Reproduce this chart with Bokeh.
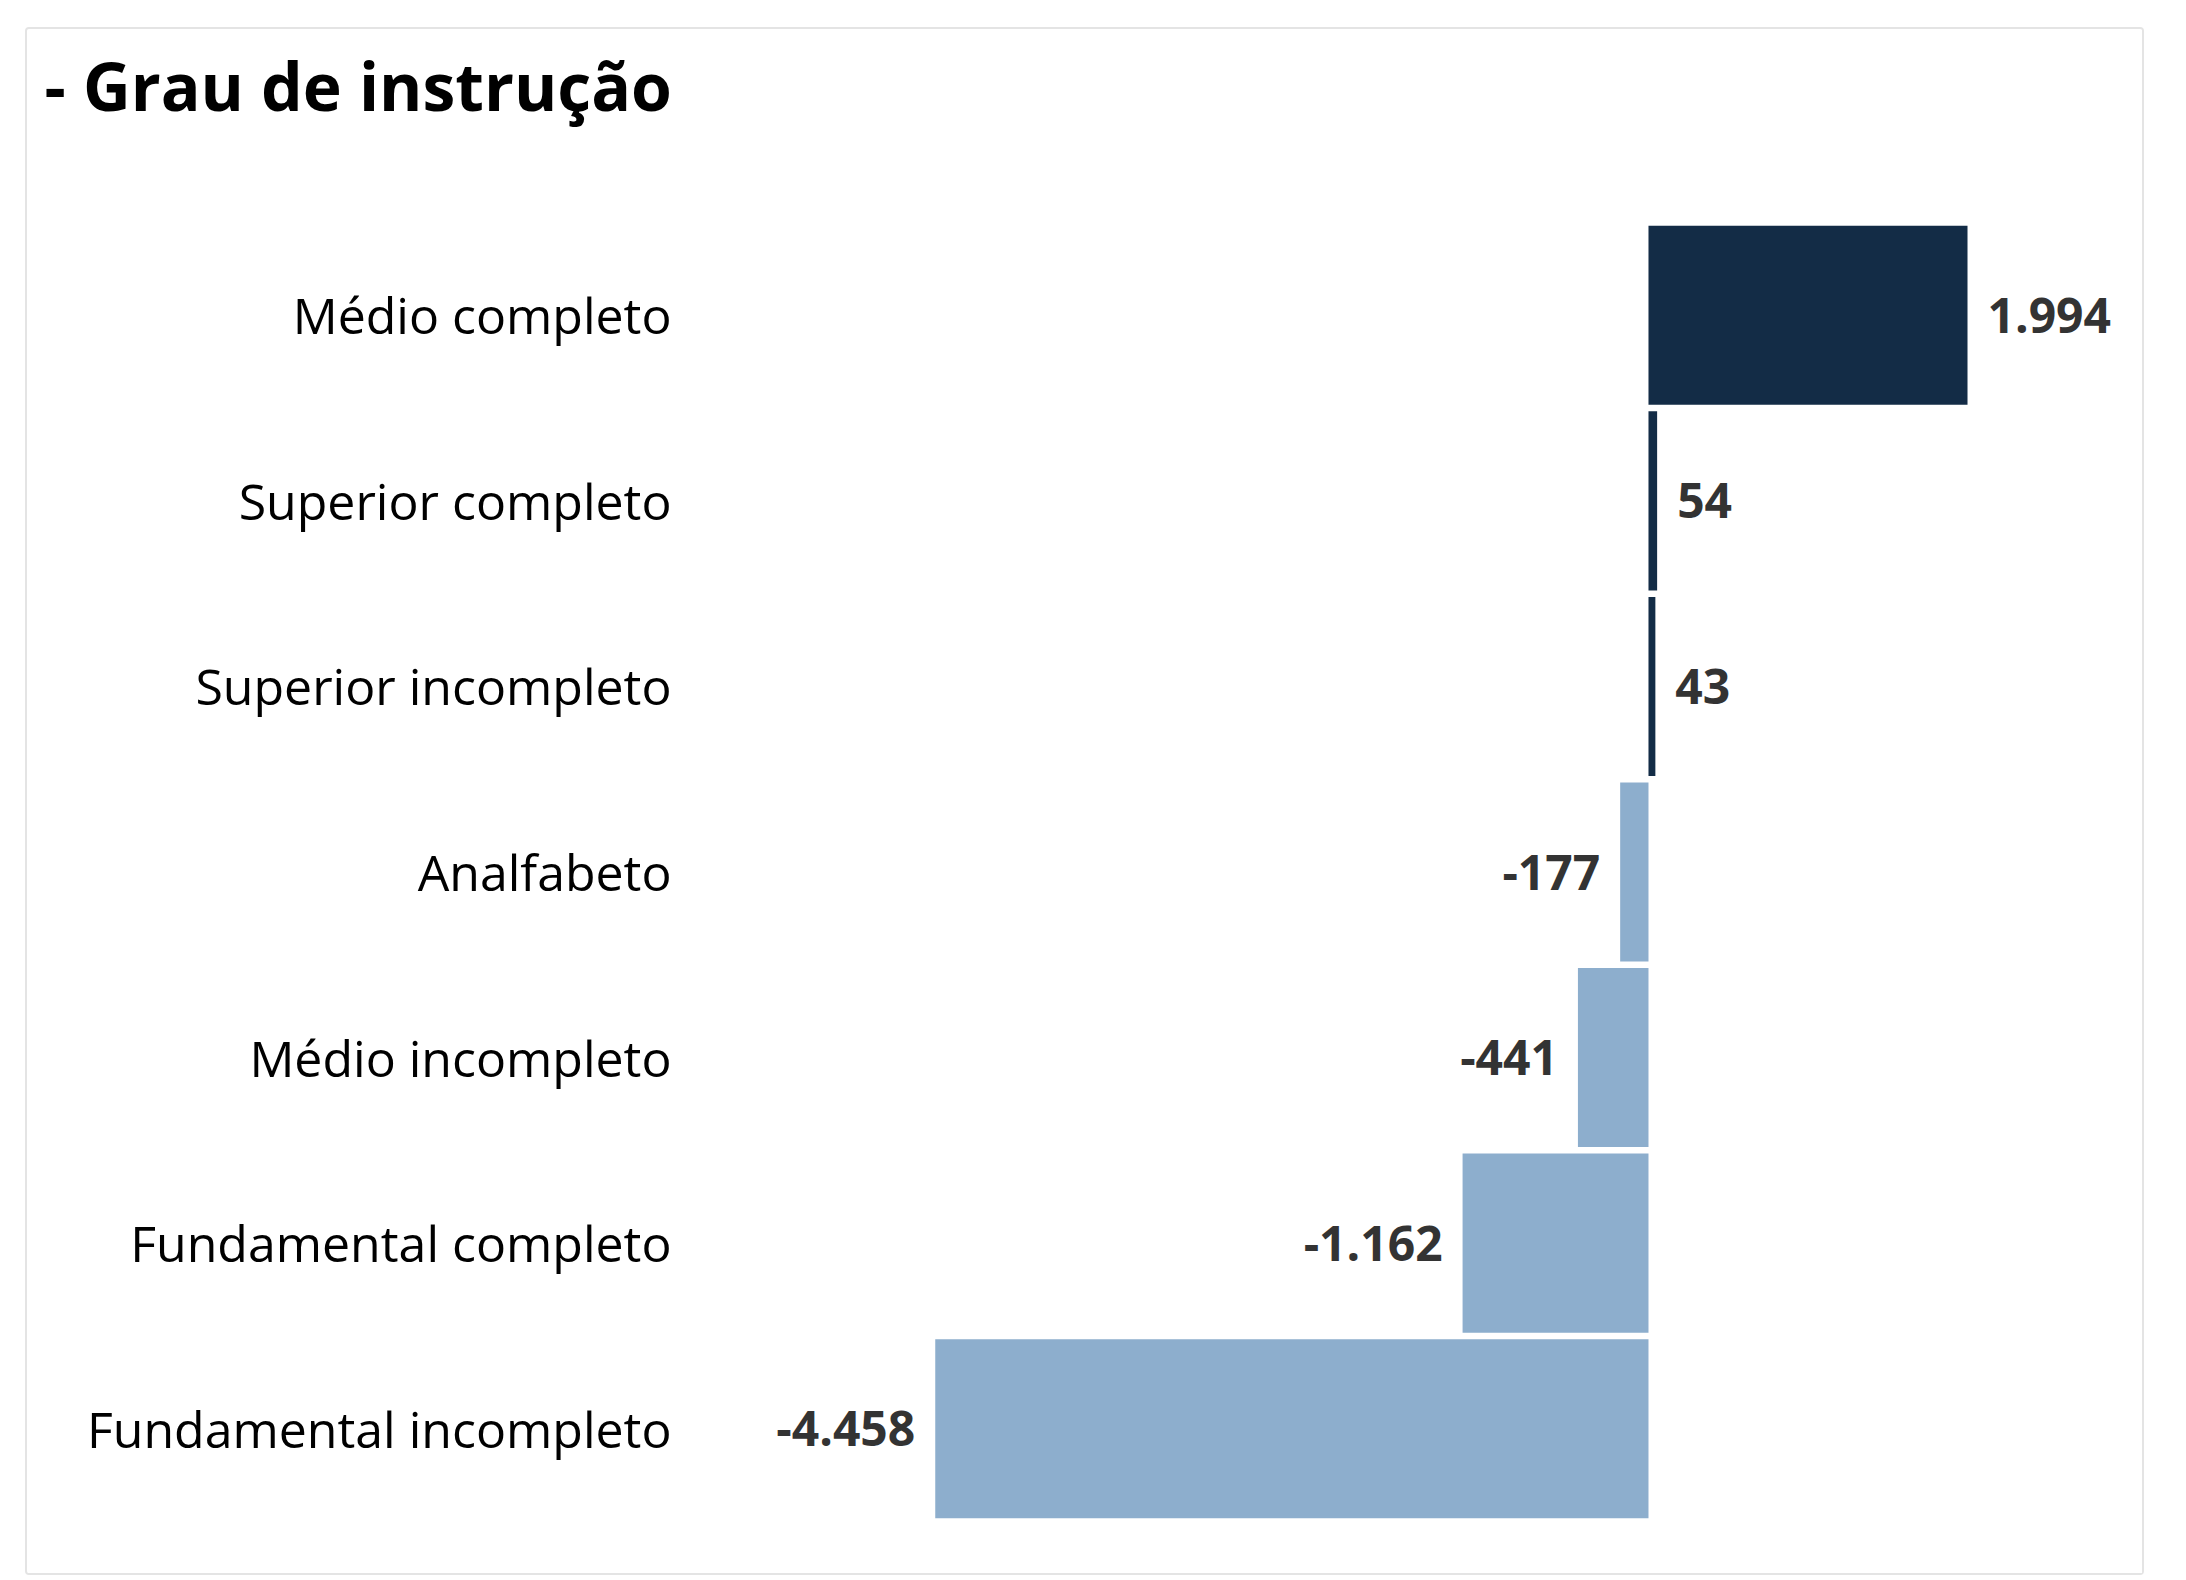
from bokeh.plotting import figure
from bokeh.layouts import column
from bokeh.models import ColumnDataSource, FactorRange, Range1d, CDSView, BooleanFilter
from bokeh.embed import file_html
from bokeh.resources import INLINE
from bokeh.core.properties import value

categories = ["Médio completo", "Superior completo", "Superior incompleto", "Analfabeto",
              "Médio incompleto", "Fundamental completo", "Fundamental incompleto"]
values = [1994, 54, 43, -177, -441, -1162, -4458]
value_labels = ["1.994", "54", "43", "-177", "-441", "-1.162", "-4.458"]
title_text = "- Grau de instrução"

POS = "#132C46"
NEG = "#8DAECD"
colors = [POS if v >= 0 else NEG for v in values]

src = ColumnDataSource(dict(cat=categories, val=values, lab=value_labels, color=colors))
pos_view = CDSView(filter=BooleanFilter([v >= 0 for v in values]))
neg_view = CDSView(filter=BooleanFilter([v < 0 for v in values]))

W = 2115
TITLE_H = 193
LEFT = 690
RIGHT = 15

# --- title strip: an empty plot that only carries the title ---
tfig = figure(width=W, height=TITLE_H, x_range=Range1d(0, 1), y_range=Range1d(0, 1),
              x_axis_location=None, y_axis_location=None,
              output_backend="svg", toolbar_location=None,
              min_border_left=LEFT, min_border_right=RIGHT, min_border_top=0, min_border_bottom=0)
tfig.xgrid.visible = False
tfig.ygrid.visible = False
tfig.outline_line_color = None
tfig.title.text = title_text
tfig.title.text_font = "Open Sans"
tfig.title.text_font_style = "bold"
tfig.title.text_font_size = "66px"
tfig.title.text_color = "#000000"
tfig.title.align = "left"
tfig.title.offset = -673
tfig.title.standoff = 16

# --- bar chart ---
p = figure(width=W, height=1351,
           y_range=FactorRange(*reversed(categories), range_padding=0),
           x_range=Range1d(-5819, 2994),
           output_backend="svg", toolbar_location=None,
           min_border_left=LEFT, min_border_right=RIGHT, min_border_top=0, min_border_bottom=52)
p.title.visible = False

p.hbar(y="cat", left=0, right="val", height=0.965, fill_color="color", line_color=None, source=src)

common = dict(x="val", y="cat", text="lab", text_baseline="middle",
              text_font=value("Open Sans"), text_font_style="bold", text_font_size="48px",
              text_color="#333333", source=src)
p.text(x_offset=20, text_align="left", view=pos_view, **common)
p.text(x_offset=-20, text_align="right", view=neg_view, **common)

p.xaxis.visible = False
p.xgrid.visible = False
p.ygrid.visible = False
p.outline_line_color = None
yax = p.yaxis[0]
yax.axis_line_color = None
yax.major_tick_line_color = None
yax.minor_tick_line_color = None
yax.major_tick_out = 0
yax.major_tick_in = 0
yax.major_label_standoff = 46
yax.major_label_text_font = "Open Sans"
yax.major_label_text_font_size = "50px"
yax.major_label_text_color = "#000000"
yax.major_label_text_font_style = "normal"

layout = column(tfig, p, spacing=0, margin=(27, 0, 0, 25))
layout.styles = {"border": "2px solid #e4e4e4", "border-radius": "4px"}

open("out.html", "w").write(file_html(layout, INLINE))
